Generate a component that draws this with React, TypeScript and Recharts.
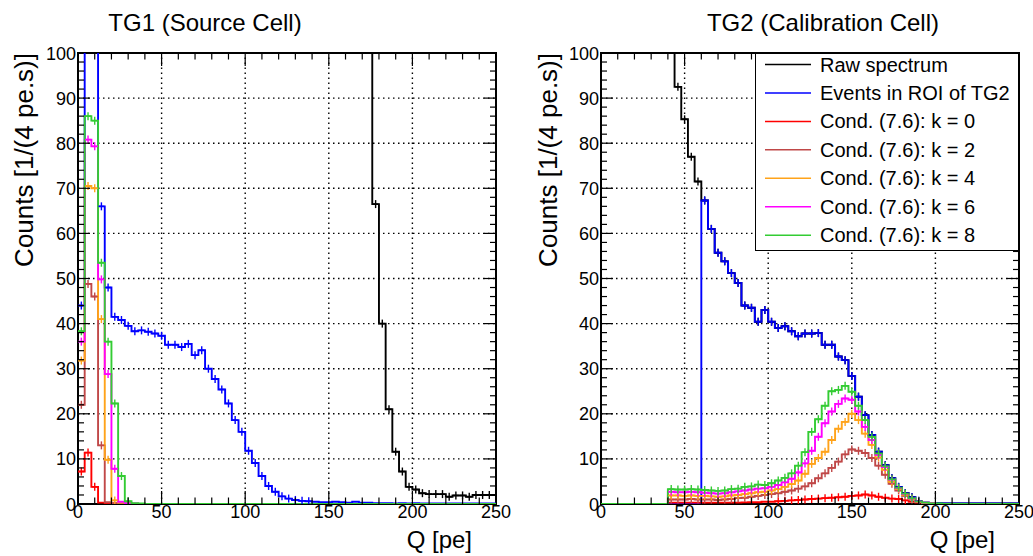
import React from "react";
import {
  ComposedChart,
  Line,
  Scatter,
  XAxis,
  YAxis,
  ReferenceLine,
  ReferenceArea,
} from "recharts";

const FONT = "'Liberation Sans', Arial, Helvetica, sans-serif";
const BIN = 4;
const PLOT_W = 418;
const PLOT_H = 451;

// bin starts 0, 4, ..., 248 (63 bins of 4 pe)
const qStarts = Array.from({ length: 63 }, (_, i) => i * BIN);
const xTicks = Array.from({ length: 26 }, (_, i) => i * 10);
const yTicks = Array.from({ length: 51 }, (_, i) => i * 2);
const xGrid = [50, 100, 150, 200];
const yGrid = [10, 20, 30, 40, 50, 60, 70, 80, 90];

const seriesNames = [
  "Raw spectrum",
  "Events in ROI of TG2",
  "Cond. (7.6): k = 0",
  "Cond. (7.6): k = 2",
  "Cond. (7.6): k = 4",
  "Cond. (7.6): k = 6",
  "Cond. (7.6): k = 8",
];
const seriesColors = ["#000000", "#0000ff", "#ff0000", "#c04848", "#ffa31a", "#ff00ff", "#33cc33"];

// ---- TG1 (Source Cell) ----
const tg1Raw = [
  2400, 5200, 4100, 2600, 1700, 1200, 900, 720, 600, 520, 470, 430, 400, 380, 360, 350, 340, 330, 320, 310,
  300, 295, 290, 285, 280, 275, 270, 268, 265, 262, 260, 258, 255, 250, 245, 240, 230, 220, 205, 190,
  170, 150, 130, 110, 66.5, 40, 21, 11.6, 7.2, 3.8, 3.2, 2.4, 2.2, 2.2, 2.2, 1.6, 1.9, 1.9, 1.6, 2.0,
  2.0, 2.0, 2.0,
];
const tg1Roi = [
  44, 160, 140, 66, 48, 41.5, 40.8, 39.5, 38.3, 38.5, 38.2, 37.8, 37.3, 35.3, 35.3, 34.8, 35.5, 33, 34.1, 30,
  27.7, 25.4, 22.3, 18.6, 16, 11.8, 9.1, 6.2, 4, 2.7, 1.7, 1.2, 0.9, 0.7, 0.6, 0.5, 0.4, 0.4, 0.5, 0.4,
  0.3, 0.5, 0.3, 0.3, 0.2, 0.2, 0.2, 0.1, 0.2, 0.1, 0.2, 0.1, 0.1, 0.1, 0.1, 0.1, 0.1, 0.1, 0.1, 0.1,
  0.1, 0.1, 0.1,
];
const tg1K0 = [
  7.2, 11.4, 3.8, 0.3, 0.2, 0.1, 0.1, 0.1, 0, 0, 0, 0, 0, 0, 0, 0, 0, 0, 0, 0,
  0, 0, 0, 0, 0, 0, 0, 0, 0, 0, 0, 0, 0, 0, 0, 0, 0, 0, 0, 0,
  0, 0, 0, 0, 0, 0, 0, 0, 0, 0, 0, 0, 0, 0, 0, 0, 0, 0, 0, 0,
  0, 0, 0,
];
const tg1K2 = [
  22, 48.8, 46, 13, 0.4, 0.2, 0.1, 0.1, 0, 0, 0, 0, 0, 0, 0, 0, 0, 0, 0, 0,
  0, 0, 0, 0, 0, 0, 0, 0, 0, 0, 0, 0, 0, 0, 0, 0, 0, 0, 0, 0,
  0, 0, 0, 0, 0, 0, 0, 0, 0, 0, 0, 0, 0, 0, 0, 0, 0, 0, 0, 0,
  0, 0, 0,
];
const tg1K4 = [
  31.8, 70.5, 70, 41, 9.8, 0.8, 0.3, 0.1, 0, 0, 0, 0, 0, 0, 0, 0, 0, 0, 0, 0,
  0, 0, 0, 0, 0, 0, 0, 0, 0, 0, 0, 0, 0, 0, 0, 0, 0, 0, 0, 0,
  0, 0, 0, 0, 0, 0, 0, 0, 0, 0, 0, 0, 0, 0, 0, 0, 0, 0, 0, 0,
  0, 0, 0,
];
const tg1K6 = [
  36, 80.8, 79.3, 49.8, 28.8, 7.8, 0.5, 0.2, 0.1, 0, 0, 0, 0, 0, 0, 0, 0, 0, 0, 0,
  0, 0, 0, 0, 0, 0, 0, 0, 0, 0, 0, 0, 0, 0, 0, 0, 0, 0, 0, 0,
  0, 0, 0, 0, 0, 0, 0, 0, 0, 0, 0, 0, 0, 0, 0, 0, 0, 0, 0, 0,
  0, 0, 0,
];
const tg1K8 = [
  38.3, 86, 85, 53.5, 36, 22.3, 6.2, 0.6, 0.2, 0.1, 0, 0, 0, 0, 0, 0, 0, 0, 0, 0,
  0, 0, 0, 0, 0, 0, 0, 0, 0, 0, 0, 0, 0, 0, 0, 0, 0, 0, 0, 0,
  0, 0, 0, 0, 0, 0, 0, 0, 0, 0, 0, 0, 0, 0, 0, 0, 0, 0, 0, 0,
  0, 0, 0,
];

// ---- TG2 (Calibration Cell) ----
const tg2Raw = [
  3000, 2500, 1800, 1200, 800, 520, 360, 250, 180, 135, 108, 92.5, 85.3, 77, 71.5, 67.3, 61, 55.7, 53.8, 51.2,
  49, 44, 43.5, 40.4, 43, 40.4, 39, 39.4, 38.3, 37.2, 37.8, 37.8, 37.9, 35.3, 35.3, 32.7, 31.9, 28.4, 23.8, 19.7,
  15.3, 11.6, 8.6, 5.7, 3.8, 2.4, 1.5, 0.7, 0.3, 0.2, 0.2, 0.1, 0.1, 0.1, 0.1, 0.1, 0.1, 0.1, 0.1, 0.1,
  0.1, 0.1, 0.1,
];
const tg2Roi = [
  0, 0, 0, 0, 0, 0, 0, 0, 0, 0, 0, 0, 0, 0, 0, 67.3, 61, 55.7, 53.8, 51.2,
  49, 44, 43.5, 40.4, 43, 40.4, 39, 39.4, 38.3, 37.2, 37.8, 37.8, 37.9, 35.3, 35.3, 32.7, 31.9, 28.4, 23.8, 19.7,
  15.3, 11.6, 8.6, 5.7, 3.8, 2.4, 1.5, 0.7, 0.3, 0.2, 0.2, 0.1, 0.1, 0.1, 0.1, 0.1, 0.1, 0.1, 0.1, 0.1,
  0.1, 0.1, 0.1,
];
const tg2K0 = [
  0, 0, 0, 0, 0, 0, 0, 0, 0, 0, 0.3, 0.3, 0.3, 0.3, 0.3, 0.3, 0.3, 0.3, 0.3, 0.3,
  0.3, 0.35, 0.4, 0.4, 0.5, 0.5, 0.6, 0.7, 0.8, 0.9, 1.0, 1.1, 1.2, 1.3, 1.4, 1.5, 1.6, 1.8, 1.9, 2.1,
  1.9, 1.6, 1.4, 1.2, 1.1, 0.8, 0.5, 0.3, 0.1, 0, 0, 0, 0, 0, 0, 0, 0, 0, 0, 0,
  0, 0, 0,
];
const tg2K2 = [
  0, 0, 0, 0, 0, 0, 0, 0, 0, 0, 1.0, 1.0, 1.0, 1.1, 1.0, 1.0, 1.0, 0.9, 1.0, 1.1,
  1.3, 1.4, 1.6, 1.8, 2.0, 2.2, 2.4, 2.7, 3.0, 3.4, 3.9, 4.6, 5.7, 6.8, 8.0, 9.4, 11.0, 12.1, 11.8, 11.3,
  10.2, 8.5, 6.5, 4.5, 3.0, 1.8, 1.0, 0.5, 0.2, 0.1, 0, 0, 0, 0, 0, 0, 0, 0, 0, 0,
  0, 0, 0,
];
const tg2K4 = [
  0, 0, 0, 0, 0, 0, 0, 0, 0, 0, 1.9, 1.9, 1.8, 1.9, 1.8, 1.8, 1.7, 1.6, 1.7, 1.9,
  2.0, 2.2, 2.4, 2.6, 2.7, 3.0, 3.3, 3.8, 4.4, 5.2, 6.7, 8.9, 10.2, 11.6, 14.2, 16.7, 18.2, 20.0, 18.6, 15.6,
  13.1, 10.3, 7.6, 4.9, 3.3, 2.0, 1.1, 0.5, 0.2, 0.1, 0, 0, 0, 0, 0, 0, 0, 0, 0, 0,
  0, 0, 0,
];
const tg2K6 = [
  0, 0, 0, 0, 0, 0, 0, 0, 0, 0, 2.7, 2.6, 2.6, 2.7, 2.6, 2.5, 2.4, 2.3, 2.4, 2.6,
  2.8, 3.0, 3.2, 3.4, 3.5, 3.8, 4.2, 4.8, 5.6, 7.0, 9.0, 11.8, 14.9, 17.9, 20.5, 22.2, 23.4, 23.1, 20.5, 17.1,
  14.2, 10.9, 8.2, 5.4, 3.5, 2.2, 1.2, 0.6, 0.3, 0.1, 0, 0, 0, 0, 0, 0, 0, 0, 0, 0,
  0, 0, 0,
];
const tg2K8 = [
  0, 0, 0, 0, 0, 0, 0, 0, 0, 0, 3.3, 3.2, 3.2, 3.3, 3.2, 3.1, 3.0, 2.9, 3.0, 3.3,
  3.4, 3.8, 3.9, 4.3, 4.2, 4.6, 5.2, 5.8, 6.8, 8.5, 11.5, 16, 18.8, 21.8, 25, 25.3, 26.2, 24.9, 21.8, 18.6,
  14.9, 11.2, 8.4, 5.5, 3.6, 2.3, 1.3, 0.6, 0.3, 0.1, 0.1, 0, 0, 0, 0, 0, 0, 0, 0, 0,
  0, 0, 0,
];

const tg1Series = [tg1Raw, tg1Roi, tg1K0, tg1K2, tg1K4, tg1K6, tg1K8];
const tg2Series = [tg2Raw, tg2Roi, tg2K0, tg2K2, tg2K4, tg2K6, tg2K8];

function xTick(props: any) {
  const { x, y, payload } = props;
  const v = payload.value;
  const major = v % 50 === 0;
  const len = major ? 13 : 6.5;
  const inner = v > 0 && v < 250;
  return (
    <g>
      {inner && <line x1={x} x2={x} y1={y} y2={y - len} stroke="#000" strokeWidth={1.2} />}
      {inner && (
        <line x1={x} x2={x} y1={y - PLOT_H} y2={y - PLOT_H + len} stroke="#000" strokeWidth={1.2} />
      )}
      {major && (
        <text x={x} y={y + 14} textAnchor="middle" fontSize={18} fontFamily={FONT} fill="#000">
          {v}
        </text>
      )}
    </g>
  );
}

function yTick(props: any) {
  const { x, y, payload } = props;
  const v = payload.value;
  const major = v % 10 === 0;
  const len = major ? 12 : 6;
  const inner = v > 0 && v < 100;
  return (
    <g>
      {inner && <line x1={x} x2={x + len} y1={y} y2={y} stroke="#000" strokeWidth={1.2} />}
      {inner && (
        <line x1={x + PLOT_W} x2={x + PLOT_W - len} y1={y} y2={y} stroke="#000" strokeWidth={1.2} />
      )}
      {major && (
        <text x={x - 2} y={y + 6.5} textAnchor="end" fontSize={18} fontFamily={FONT} fill="#000">
          {v}
        </text>
      )}
    </g>
  );
}

function crossShape(color: string) {
  return (p: any) => (
    <g>
      <line x1={p.cx - 3} x2={p.cx + 3} y1={p.cy} y2={p.cy} stroke={color} strokeWidth={1.4} />
      <line x1={p.cx} x2={p.cx} y1={p.cy - 4} y2={p.cy + 4} stroke={color} strokeWidth={1.4} />
    </g>
  );
}

function Panel({ series, width, left, right }: { series: number[][]; width: number; left: number; right: number }) {
  const rows = qStarts.map((q, i) => {
    const r: Record<string, number> = { q };
    series.forEach((s, j) => (r["s" + j] = s[i]));
    return r;
  });
  const last: Record<string, number> = { q: qStarts[qStarts.length - 1] + BIN };
  series.forEach((s, j) => (last["s" + j] = s[s.length - 1]));
  rows.push(last);

  const markers = series.map((s) =>
    qStarts
      .map((q, i) => ({ q: q + BIN / 2, v: s[i] }))
      .filter((p) => p.v > 0.5 && p.v <= 100),
  );

  return (
    <ComposedChart
      width={width}
      height={556}
      data={rows}
      margin={{ top: 53, right, bottom: 22, left }}
    >
      <XAxis
        type="number"
        dataKey="q"
        domain={[0, 250]}
        allowDataOverflow
        ticks={xTicks}
        interval={0}
        tick={xTick}
        tickLine={false}
        axisLine={false}
        tickSize={0}
        tickMargin={0}
        height={30}
      />
      <YAxis
        type="number"
        domain={[0, 100]}
        allowDataOverflow
        ticks={yTicks}
        interval={0}
        tick={yTick}
        tickLine={false}
        axisLine={false}
        tickSize={0}
        tickMargin={0}
        width={60}
      />
      {yGrid.map((v) => (
        <ReferenceLine key={"gy" + v} y={v} stroke="#000" strokeWidth={1.4} strokeDasharray="1.5 3.5" />
      ))}
      {xGrid.map((v) => (
        <ReferenceLine key={"gx" + v} x={v} stroke="#000" strokeWidth={1.4} strokeDasharray="1.5 3.5" />
      ))}
      <ReferenceArea x1={0} x2={250} y1={0} y2={100} fill="none" stroke="#000" strokeWidth={2} />
      {series.map((_, j) => (
        <Line
          key={"l" + j}
          type="stepAfter"
          dataKey={"s" + j}
          name={seriesNames[j]}
          stroke={seriesColors[j]}
          strokeWidth={1.9}
          dot={false}
          activeDot={false}
          isAnimationActive={false}
        />
      ))}
      {markers.map((m, j) => (
        <Scatter
          key={"m" + j}
          data={m}
          dataKey="v"
          shape={crossShape(seriesColors[j])}
          isAnimationActive={false}
        />
      ))}
    </ComposedChart>
  );
}

function LegendBox() {
  return (
    <div
      style={{
        position: "absolute",
        left: 755,
        top: 53,
        width: 262,
        height: 196,
        border: "1.5px solid #000",
        background: "#fff",
      }}
    >
      <svg width={262} height={196}>
        {seriesNames.map((name, i) => {
          const cy = 10.5 + i * 28.45;
          return (
            <g key={name}>
              <line x1={9} x2={55} y1={cy} y2={cy} stroke={seriesColors[i]} strokeWidth={1.5} />
              <text x={64} y={cy + 7} fontSize={20} fontFamily={FONT} fill="#000">
                {name}
              </text>
            </g>
          );
        })}
      </svg>
    </div>
  );
}

export default function App() {
  return (
    <div
      style={{
        position: "absolute",
        left: 0,
        top: 0,
        width: 1033,
        height: 556,
        background: "#fff",
        fontFamily: FONT,
      }}
    >
      <div style={{ position: "absolute", left: 0, top: 0 }}>
        <Panel series={tg1Series} width={516} left={18} right={20} />
      </div>
      <div style={{ position: "absolute", left: 516, top: 0 }}>
        <Panel series={tg2Series} width={517} left={25} right={14} />
      </div>
      <svg
        width={1033}
        height={556}
        style={{ position: "absolute", left: 0, top: 0, pointerEvents: "none" }}
      >
        <text x={205} y={31} textAnchor="middle" fontSize={24} fontFamily={FONT} fill="#000">
          TG1 (Source Cell)
        </text>
        <text x={823} y={31} textAnchor="middle" fontSize={24} fontFamily={FONT} fill="#000">
          TG2 (Calibration Cell)
        </text>
        <text
          x={33}
          y={53}
          transform="rotate(-90 33 53)"
          textAnchor="end"
          fontSize={26}
          fontFamily={FONT}
          fill="#000"
        >
          Counts [1/(4 pe.s)]
        </text>
        <text
          x={557}
          y={53}
          transform="rotate(-90 557 53)"
          textAnchor="end"
          fontSize={26}
          fontFamily={FONT}
          fill="#000"
        >
          Counts [1/(4 pe.s)]
        </text>
        <text x={472} y={548} textAnchor="end" fontSize={24} fontFamily={FONT} fill="#000">
          Q [pe]
        </text>
        <text x={995} y={548} textAnchor="end" fontSize={24} fontFamily={FONT} fill="#000">
          Q [pe]
        </text>
      </svg>
      <LegendBox />
    </div>
  );
}
